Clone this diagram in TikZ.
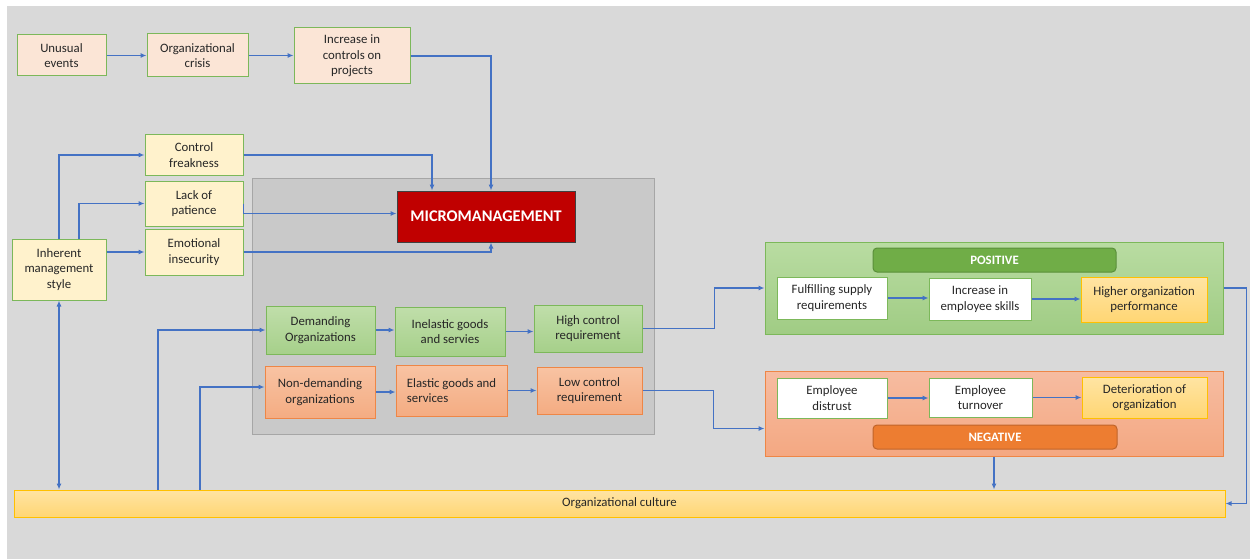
\documentclass[tikz,border=0pt]{standalone}
\usepackage{fontspec}
\setmainfont{Carlito}
\usetikzlibrary{arrows.meta}
\definecolor{bggray}{HTML}{D9D9D9}
\definecolor{boxgray}{HTML}{C9C9C9}
\definecolor{boxgrayline}{HTML}{A6A6A6}
\definecolor{peach}{HTML}{FBE5D6}
\definecolor{lyellow}{HTML}{FFF2CC}
\definecolor{gline}{HTML}{7CB85A}
\definecolor{oline}{HTML}{EE8646}
\definecolor{yline}{HTML}{FFC000}
\definecolor{microred}{HTML}{C00000}
\definecolor{arr}{HTML}{4472C4}
\definecolor{txt}{HTML}{262626}
\definecolor{posg}{HTML}{70AD47}
\definecolor{posgline}{HTML}{5A8F3A}
\definecolor{nego}{HTML}{ED7D31}
\definecolor{negoline}{HTML}{C0642A}
\newcommand\fs{\fontsize{12.8}{15.5}\selectfont}
\tikzset{
  box/.style={draw, line width=1pt, inner sep=1pt, align=center, font=\fs, text=txt},
  peachbox/.style={box, fill=peach, draw=gline},
  ylbox/.style={box, fill=lyellow, draw=gline},
  greenbox/.style={box, top color=C0DEAA, bottom color=A6D08A, draw=gline},
  orangebox/.style={box, top color=F8C3A3, bottom color=F4AC82, draw=oline},
  whitebox/.style={box, fill=white, draw=gline},
  goldbox/.style={box, top color=FFE4A3, bottom color=FFD674, draw=yline},
  label/.style={draw, line width=1pt, rounded corners=4pt, inner sep=0pt, font=\fs\bfseries, text=white},
  conn/.style={draw=arr, line width=1.1pt, -{Latex[length=6pt,width=5pt]}},
  plain/.style={draw=arr, line width=1.1pt},
}
\colorlet{C0DEAA}{white}
\definecolor{C0DEAA}{HTML}{C0DEAA}
\definecolor{A6D08A}{HTML}{A6D08A}
\definecolor{F8C3A3}{HTML}{F8C3A3}
\definecolor{F4AC82}{HTML}{F4AC82}
\definecolor{FFE4A3}{HTML}{FFE4A3}
\definecolor{FFD674}{HTML}{FFD674}
\definecolor{postop}{HTML}{B9DCA2}
\definecolor{posbot}{HTML}{A0CC84}
\definecolor{negtop}{HTML}{F6BCA1}
\definecolor{negbot}{HTML}{F4A882}
\begin{document}
\begin{tikzpicture}[x=1pt, y=-1pt]
\useasboundingbox (0,0) rectangle (1250,559);
\fill[white] (0,0) rectangle (1250,559);
\fill[bggray] (7,6) rectangle (1250,559);

% big gray container
\node[draw=boxgrayline, fill=boxgray, line width=1pt, minimum width=402pt, minimum height=256pt, inner sep=0pt] (gray) at (453,306) {};

% top row
\node[peachbox, minimum width=89pt, minimum height=41pt] (unusual) at (61.5,55.5) {Unusual\\events};
\node[peachbox, minimum width=101pt, minimum height=43pt] (crisis) at (197.5,55.5) {Organizational\\crisis};
\node[peachbox, minimum width=116pt, minimum height=56pt] (incr) at (352,56) {Increase in\\controls on\\projects};

% left column
\node[ylbox, minimum width=98pt, minimum height=40pt] (control) at (194,155) {Control\\freakness};
\node[ylbox, minimum width=98pt, minimum height=45pt] (lack) at (194,203.5) {Lack of\\patience};
\node[ylbox, minimum width=98pt, minimum height=46pt] (emo) at (194,252) {Emotional\\insecurity};
\node[ylbox, minimum width=94pt, minimum height=61pt] (inh) at (59,269.5) {Inherent\\management\\style};

% micromanagement
\node[draw=black!75, fill=microred, line width=1pt, minimum width=178pt, minimum height=51pt, inner sep=0pt, text=white, font=\fontsize{16.3}{19}\selectfont\bfseries] (micro) at (486,216.5) {MICROMANAGEMENT};

% green row
\node[greenbox, minimum width=109pt, minimum height=48pt] (dem) at (320.5,330) {Demanding\\Organizations};
\node[greenbox, minimum width=110pt, minimum height=49pt] (inel) at (450,331.5) {Inelastic goods\\and servies};
\node[greenbox, minimum width=108pt, minimum height=47pt] (high) at (588,328.5) {High control\\requirement};

% orange row
\node[orangebox, minimum width=110pt, minimum height=52pt] (nondem) at (320,392) {Non-demanding\\organizations};
\node[orangebox, minimum width=111pt, minimum height=51pt, align=left] (elastic) at (451.5,390.5) {Elastic goods and\\services};
\node[orangebox, minimum width=105pt, minimum height=47pt] (low) at (589.5,390.5) {Low control\\requirement};

% positive panel
\node[draw=gline, top color=postop, bottom color=posbot, line width=1pt, minimum width=458pt, minimum height=92pt, inner sep=0pt] (pospanel) at (994,288) {};
\node[label, fill=posg, draw=posgline, minimum width=243pt, minimum height=24pt] (poslabel) at (994.5,260) {POSITIVE};
\node[whitebox, minimum width=110pt, minimum height=42pt] (fulfil) at (832,298) {Fulfilling supply\\requirements};
\node[whitebox, minimum width=102pt, minimum height=42pt] (skills) at (980,299) {Increase in\\employee skills};
\node[goldbox, minimum width=126pt, minimum height=45pt] (higher) at (1144,299.5) {Higher organization\\performance};

% negative panel
\node[draw=oline, top color=negtop, bottom color=negbot, line width=1pt, minimum width=458pt, minimum height=85pt, inner sep=0pt] (negpanel) at (994,413.5) {};
\node[whitebox, minimum width=110pt, minimum height=40pt] (distrust) at (832,398) {Employee\\distrust};
\node[whitebox, minimum width=103pt, minimum height=39pt] (turnover) at (980.5,397.5) {Employee\\turnover};
\node[goldbox, minimum width=125pt, minimum height=41pt] (deter) at (1144.5,397.5) {Deterioration of\\organization};
\node[label, fill=nego, draw=negoline, minimum width=244pt, minimum height=24pt] (neglabel) at (995,437) {NEGATIVE};

% culture bar
\node[goldbox, minimum width=1211pt, minimum height=27pt] (culture) at (619.5,503.5) {Organizational culture};

\coordinate (c1) at (158,490);
\coordinate (c2) at (200,490);

% connectors
\draw[conn] (unusual.east) -- (crisis.west);
\draw[conn] (crisis.east) -- (crisis.east -| incr.west);
\draw[conn] (incr.east) -| ([xshift=5pt]micro.north);
\draw[conn] (control.east) -| ([xshift=-54pt]micro.north);
\draw[conn] (lack.east) |- ([yshift=3pt]micro.west);
\draw[conn] (emo.east) -| ([xshift=5pt]micro.south);
\draw[conn] (inh.north) |- (control.west);
\draw[conn] ([xshift=20pt]inh.north) |- (lack.west);
\draw[conn] (inh.east |- emo.west) -- (emo.west);
\draw[conn, {Latex[length=6pt,width=5pt]}-{Latex[length=6pt,width=5pt]}] (inh.south) -- (inh.south |- culture.north);
\draw[conn] (c1) |- (dem.west);
\draw[conn] (c2) |- ([yshift=5pt]nondem.west);
\draw[conn] (dem.east) -- (dem.east -| inel.west);
\draw[conn] (inel.east) -- (inel.east -| high.west);
\draw[conn] (nondem.east) -- (nondem.east -| elastic.west);
\draw[conn] (elastic.east) -- (elastic.east -| low.west);
\draw[conn] (high.east) -- ++(72,0) |- (pospanel.west);
\draw[conn] (low.east) -- ++(71,0) |- ([yshift=-15pt]negpanel.west);
\draw[conn] (fulfil.east) -- (fulfil.east -| skills.west);
\draw[conn] (skills.east) -- (skills.east -| higher.west);
\draw[conn] (distrust.east) -- (distrust.east -| turnover.west);
\draw[conn] (turnover.east) -- (turnover.east -| deter.west);
\draw[conn] (pospanel.east) -- ++(23,0) |- (culture.east);
\draw[conn] (negpanel.south) -- (negpanel.south |- culture.north);
\end{tikzpicture}
\end{document}
